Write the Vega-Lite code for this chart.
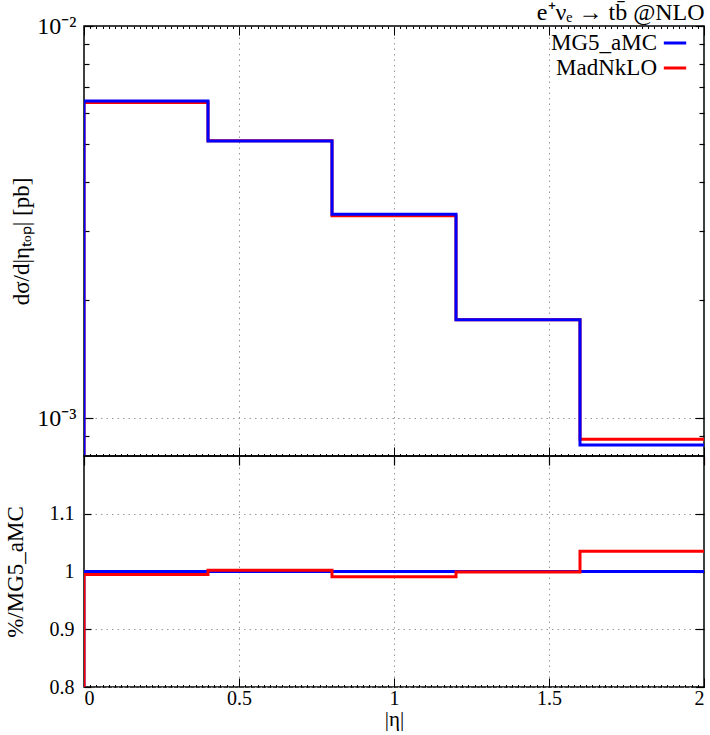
{
  "$schema": "https://vega.github.io/schema/vega-lite/v6.json",
  "padding": {"left": 3, "right": 6, "top": 0, "bottom": 0},
  "spacing": 0,
  "bounds": "flush",
  "config": {
    "font": "Liberation Serif",
    "view": {"stroke": "black", "strokeWidth": 1.5},
    "axis": {
      "labelFont": "Liberation Serif", "titleFont": "Liberation Serif",
      "labelFontSize": 20, "titleFontSize": 23, "titleFontWeight": "normal",
      "labelColor": "black", "titleColor": "black",
      "domainColor": "black", "domainWidth": 1.5,
      "tickColor": "black", "tickSize": -7, "tickWidth": 1.2,
      "gridColor": "#999999", "gridDash": [1.5, 4], "gridWidth": 1
    },
    "legend": {"labelFont": "Liberation Serif", "labelFontSize": 23, "labelColor": "black"}
  },
  "vconcat": [
    {
      "width": 620, "height": 430,
      "title": {"text": "e⁺νₑ → tb̄ @NLO", "anchor": "end", "fontSize": 24, "fontWeight": "normal", "font": "Liberation Serif", "offset": -11, "color": "black"},
      "data": {"values": [
        {"s": "MadNkLO", "i": 0, "eta": 0, "v": 0.0005},
        {"s": "MadNkLO", "i": 1, "eta": 0, "v": 0.00638},
        {"s": "MadNkLO", "i": 2, "eta": 0.4, "v": 0.00510},
        {"s": "MadNkLO", "i": 3, "eta": 0.8, "v": 0.00328},
        {"s": "MadNkLO", "i": 4, "eta": 1.2, "v": 0.00178},
        {"s": "MadNkLO", "i": 5, "eta": 1.6, "v": 0.000883},
        {"s": "MadNkLO", "i": 6, "eta": 2.0, "v": 0.000883},
        {"s": "MG5_aMC", "i": 0, "eta": 0, "v": 0.0005},
        {"s": "MG5_aMC", "i": 1, "eta": 0, "v": 0.00644},
        {"s": "MG5_aMC", "i": 2, "eta": 0.4, "v": 0.00509},
        {"s": "MG5_aMC", "i": 3, "eta": 0.8, "v": 0.00331},
        {"s": "MG5_aMC", "i": 4, "eta": 1.2, "v": 0.00178},
        {"s": "MG5_aMC", "i": 5, "eta": 1.6, "v": 0.000853},
        {"s": "MG5_aMC", "i": 6, "eta": 2.0, "v": 0.000853}
      ]},
      "layer": [
        {
          "mark": {"type": "line", "interpolate": "step-after", "strokeWidth": 3, "clip": true},
          "encoding": {
            "x": {"field": "eta", "type": "quantitative", "scale": {"domain": [0, 2], "nice": false},
                  "axis": {"labels": false, "title": null, "grid": true, "domain": false, "minExtent": 0, "maxExtent": 0,
                           "values": [0,0.02,0.04,0.06,0.08,0.1,0.12,0.14,0.16,0.18,0.2,0.22,0.24,0.26,0.28,0.3,0.32,0.34,0.36,0.38,0.4,0.42,0.44,0.46,0.48,0.5,0.52,0.54,0.56,0.58,0.6,0.62,0.64,0.66,0.68,0.7,0.72,0.74,0.76,0.78,0.8,0.82,0.84,0.86,0.88,0.9,0.92,0.94,0.96,0.98,1,1.02,1.04,1.06,1.08,1.1,1.12,1.14,1.16,1.18,1.2,1.22,1.24,1.26,1.28,1.3,1.32,1.34,1.36,1.38,1.4,1.42,1.44,1.46,1.48,1.5,1.52,1.54,1.56,1.58,1.6,1.62,1.64,1.66,1.68,1.7,1.72,1.74,1.76,1.78,1.8,1.82,1.84,1.86,1.88,1.9,1.92,1.94,1.96,1.98,2],
                           "gridOpacity": {"condition": {"test": "datum.value == 0.5 || datum.value == 1 || datum.value == 1.5", "value": 1}, "value": 0},
                           "tickSize": {"condition": {"test": "datum.value == 0 || datum.value == 0.5 || datum.value == 1 || datum.value == 1.5 || datum.value == 2", "value": -9}, "value": -2.5},
                           "tickWidth": 1}},
            "y": {"field": "v", "type": "quantitative", "scale": {"type": "log", "domain": [0.0008, 0.01], "nice": false},
                  "axis": {"title": "dσ/d|ηₜₒₚ| [pb]", "titlePadding": 2, "minExtent": 49, "maxExtent": 49,
                           "values": [0.0009, 0.001, 0.002, 0.003, 0.004, 0.005, 0.006, 0.007, 0.008, 0.009, 0.01],
                           "labelExpr": "datum.value == 0.01 ? '10⁻²' : (datum.value == 0.001 ? '10⁻³' : '')",
                           "labelFontSize": 24,
                           "grid": true,
                           "gridOpacity": {"condition": {"test": "datum.value == 0.001", "value": 1}, "value": 0},
                           "tickSize": {"condition": {"test": "datum.value == 0.001 || datum.value == 0.01", "value": -9}, "value": -5},
                           "labelPadding": 17, "domain": false}},
            "color": {"field": "s", "type": "nominal",
                      "scale": {"domain": ["MG5_aMC", "MadNkLO"], "range": ["#0000ff", "#ff0000"]},
                      "legend": {"title": null, "orient": "none", "legendX": 578, "legendY": 4, "padding": 0,
                                 "symbolType": "stroke", "symbolStrokeWidth": 3, "symbolSize": 500,
                                 "labelAlign": "right", "labelOffset": -31, "rowPadding": -6, "labelLimit": 300}},
            "order": {"field": "i", "type": "quantitative"}
          }
        },
        {
          "mark": {"type": "line", "opacity": 0},
          "encoding": {
            "x": {"field": "eta", "type": "quantitative",
                  "axis": {"orient": "top", "labels": false, "title": null, "grid": false, "domain": false, "minExtent": 0, "maxExtent": 0,
                           "values": [0,0.02,0.04,0.06,0.08,0.1,0.12,0.14,0.16,0.18,0.2,0.22,0.24,0.26,0.28,0.3,0.32,0.34,0.36,0.38,0.4,0.42,0.44,0.46,0.48,0.5,0.52,0.54,0.56,0.58,0.6,0.62,0.64,0.66,0.68,0.7,0.72,0.74,0.76,0.78,0.8,0.82,0.84,0.86,0.88,0.9,0.92,0.94,0.96,0.98,1,1.02,1.04,1.06,1.08,1.1,1.12,1.14,1.16,1.18,1.2,1.22,1.24,1.26,1.28,1.3,1.32,1.34,1.36,1.38,1.4,1.42,1.44,1.46,1.48,1.5,1.52,1.54,1.56,1.58,1.6,1.62,1.64,1.66,1.68,1.7,1.72,1.74,1.76,1.78,1.8,1.82,1.84,1.86,1.88,1.9,1.92,1.94,1.96,1.98,2],
                           "tickSize": {"condition": {"test": "datum.value == 0 || datum.value == 0.5 || datum.value == 1 || datum.value == 1.5 || datum.value == 2", "value": -9}, "value": -2.5},
                           "tickWidth": 1}},
            "y": {"field": "v", "type": "quantitative",
                  "axis": {"orient": "right", "labels": false, "title": null, "grid": false, "domain": false, "minExtent": 0, "maxExtent": 0,
                           "values": [0.0009, 0.001, 0.002, 0.003, 0.004, 0.005, 0.006, 0.007, 0.008, 0.009, 0.01],
                           "tickSize": {"condition": {"test": "datum.value == 0.001 || datum.value == 0.01", "value": -9}, "value": -5}}},
            "detail": {"field": "s"}
          }
        }
      ],
      "resolve": {"axis": {"x": "independent", "y": "independent"}}
    },
    {
      "width": 620, "height": 231,
      "data": {"values": [
        {"s": "MG5_aMC", "i": 0, "eta": 0, "r": 0.7},
        {"s": "MG5_aMC", "i": 1, "eta": 0, "r": 1.0},
        {"s": "MG5_aMC", "i": 2, "eta": 0.4, "r": 1.0},
        {"s": "MG5_aMC", "i": 3, "eta": 0.8, "r": 1.0},
        {"s": "MG5_aMC", "i": 4, "eta": 1.2, "r": 1.0},
        {"s": "MG5_aMC", "i": 5, "eta": 1.6, "r": 1.0},
        {"s": "MG5_aMC", "i": 6, "eta": 2.0, "r": 1.0},
        {"s": "MadNkLO", "i": 0, "eta": 0, "r": 0.7},
        {"s": "MadNkLO", "i": 1, "eta": 0, "r": 0.995},
        {"s": "MadNkLO", "i": 2, "eta": 0.4, "r": 1.002},
        {"s": "MadNkLO", "i": 3, "eta": 0.8, "r": 0.991},
        {"s": "MadNkLO", "i": 4, "eta": 1.2, "r": 0.999},
        {"s": "MadNkLO", "i": 5, "eta": 1.6, "r": 1.035},
        {"s": "MadNkLO", "i": 6, "eta": 2.0, "r": 1.035}
      ]},
      "layer": [
        {
          "mark": {"type": "line", "interpolate": "step-after", "strokeWidth": 3, "clip": true},
          "encoding": {
            "x": {"field": "eta", "type": "quantitative", "scale": {"domain": [0, 2], "nice": false},
                  "axis": {"title": "|η|", "titleFontSize": 21, "grid": true, "domain": false, "labelPadding": 10, "titlePadding": -6,
                           "values": [0,0.02,0.04,0.06,0.08,0.1,0.12,0.14,0.16,0.18,0.2,0.22,0.24,0.26,0.28,0.3,0.32,0.34,0.36,0.38,0.4,0.42,0.44,0.46,0.48,0.5,0.52,0.54,0.56,0.58,0.6,0.62,0.64,0.66,0.68,0.7,0.72,0.74,0.76,0.78,0.8,0.82,0.84,0.86,0.88,0.9,0.92,0.94,0.96,0.98,1,1.02,1.04,1.06,1.08,1.1,1.12,1.14,1.16,1.18,1.2,1.22,1.24,1.26,1.28,1.3,1.32,1.34,1.36,1.38,1.4,1.42,1.44,1.46,1.48,1.5,1.52,1.54,1.56,1.58,1.6,1.62,1.64,1.66,1.68,1.7,1.72,1.74,1.76,1.78,1.8,1.82,1.84,1.86,1.88,1.9,1.92,1.94,1.96,1.98,2],
                           "labelExpr": "(datum.value == 0 || datum.value == 0.5 || datum.value == 1 || datum.value == 1.5 || datum.value == 2) ? datum.label : ''",
                           "labelOverlap": false,
                           "gridOpacity": {"condition": {"test": "datum.value == 0.5 || datum.value == 1 || datum.value == 1.5", "value": 1}, "value": 0},
                           "tickSize": {"condition": {"test": "datum.value == 0 || datum.value == 0.5 || datum.value == 1 || datum.value == 1.5 || datum.value == 2", "value": -9}, "value": -2.5},
                           "tickWidth": 1, "format": "~g"}},
            "y": {"field": "r", "type": "quantitative", "scale": {"domain": [0.8, 1.2], "nice": false, "zero": false},
                  "axis": {"title": "%/MG5_aMC", "titlePadding": 2, "minExtent": 55, "maxExtent": 55,
                           "values": [0.8, 0.9, 1, 1.1], "format": "~g", "grid": true, "labelPadding": 17, "domain": false}},
            "color": {"field": "s", "type": "nominal",
                      "scale": {"domain": ["MG5_aMC", "MadNkLO"], "range": ["#0000ff", "#ff0000"]}, "legend": null},
            "order": {"field": "i", "type": "quantitative"}
          }
        },
        {
          "mark": {"type": "line", "opacity": 0},
          "encoding": {
            "x": {"field": "eta", "type": "quantitative",
                  "axis": {"orient": "top", "labels": false, "title": null, "grid": false, "domain": false, "minExtent": 0, "maxExtent": 0,
                           "values": [0, 0.5, 1, 1.5, 2], "tickSize": -9}},
            "y": {"field": "r", "type": "quantitative",
                  "axis": {"orient": "right", "labels": false, "title": null, "grid": false, "domain": false, "minExtent": 0, "maxExtent": 0,
                           "values": [0.8, 0.9, 1, 1.1], "tickSize": -9}},
            "detail": {"field": "s"}
          }
        }
      ],
      "resolve": {"axis": {"x": "independent", "y": "independent"}}
    }
  ]
}
